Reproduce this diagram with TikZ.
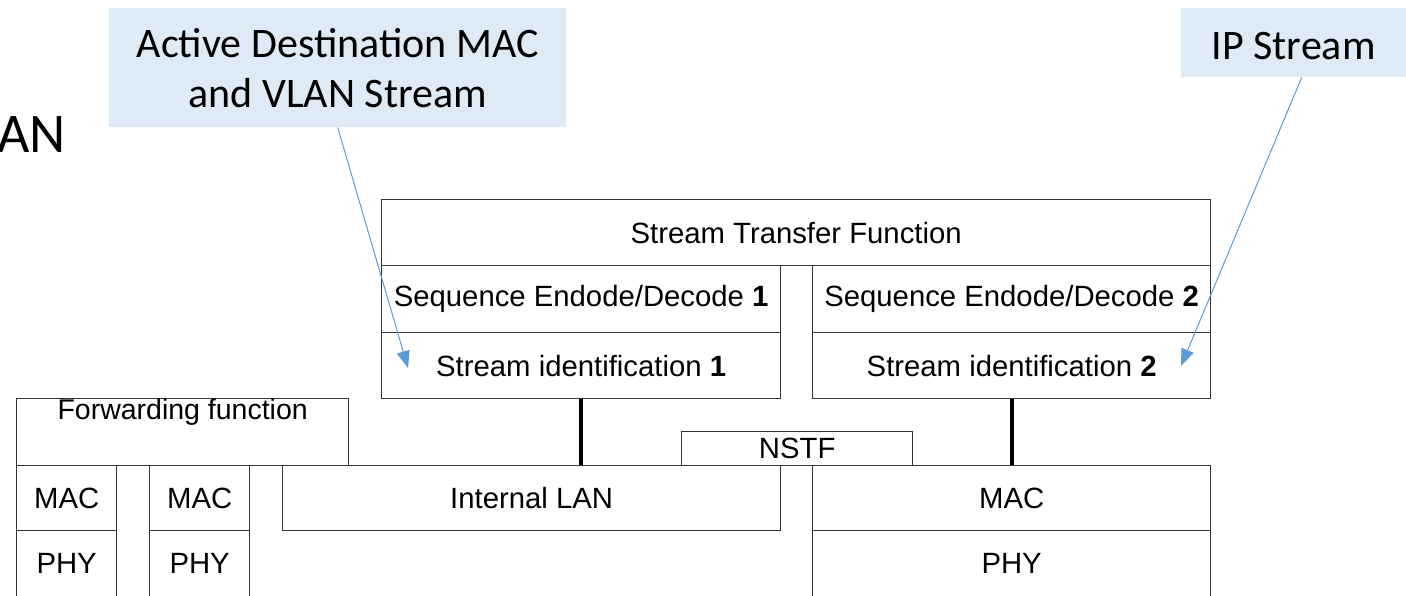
\documentclass[tikz,border=0pt]{standalone}
\usepackage{fontspec}
\setmainfont{Liberation Sans}
\newfontfamily\callfont{Carlito}
\usetikzlibrary{arrows.meta}

\definecolor{callfill}{RGB}{222,234,246}
\definecolor{callline}{RGB}{91,155,213}

\tikzset{
 layer/.style={draw=black!80, line width=1.3pt, anchor=north west, inner sep=0pt, font=\fontsize{29.3}{30}\selectfont},
 callout/.style={fill=callfill, anchor=north west, inner sep=0pt, align=center, font=\callfont\fontsize{42}{50}\selectfont},
 pointer/.style={draw=callline, line width=1pt, -{Triangle[length=17pt,width=13pt]}},
 wire/.style={line width=4pt}
}

\begin{document}
\begin{tikzpicture}[x=1pt, y=-1pt]
\useasboundingbox (0,0) rectangle (1406,595);

\node[callout, minimum width=457, minimum height=119] (cdst) at (109,8) {Active Destination MAC\\and VLAN Stream};
\node[callout, minimum width=225, minimum height=69, text height=34pt] (cip) at (1181,8) {IP Stream};
\node[font=\callfont\fontsize{56}{60}\selectfont, anchor=base east, inner sep=0pt] (cutlan) at (66,152) {AN};

\node[layer, minimum width=829, minimum height=66] (stf) at (381,199) {Stream Transfer Function};
\node[layer, minimum width=399, minimum height=67] (sed1) at (381,265) {Sequence Endode/Decode \textbf{1}};
\node[layer, minimum width=399, minimum height=66] (sid1) at (381,332) {Stream identification \textbf{1}};
\node[layer, minimum width=398, minimum height=67] (sed2) at (812,265) {Sequence Endode/Decode \textbf{2}};
\node[layer, minimum width=398, minimum height=66] (sid2) at (812,332) {Stream identification \textbf{2}};

\node[layer, minimum width=332, minimum height=67,
 label={[anchor=north, inner sep=1pt, font=\fontsize{28.5}{30}\selectfont]north:Forwarding function}] (fwd) at (16,398) {};
\node[layer, minimum width=231, minimum height=34] (nstf) at (681,431) {NSTF};

\foreach \x/\n in {16/1, 149/2} {
 \node[layer, minimum width=100, minimum height=65] (mac\n) at (\x,465) {MAC};
 \node[layer, minimum width=100, minimum height=66.5] (phy\n) at (\x,530) {PHY};
}
\node[layer, minimum width=498, minimum height=65] (lan) at (282,465) {Internal LAN};
\node[layer, minimum width=398, minimum height=65] (mac3) at (812,465) {MAC};
\node[layer, minimum width=398, minimum height=66.5] (phy3) at (812,530) {PHY};

\draw[wire] (sid1.south) -- (sid1.south |- lan.north);
\draw[wire] (sid2.south) -- (sid2.south |- mac3.north);

\coordinate (tip1) at (408,368);
\coordinate (tip2) at (1181,366);
\draw[pointer] (cdst.south) -- (tip1);
\draw[pointer] ([xshift=8]cip.south) -- (tip2);

\end{tikzpicture}
\end{document}
